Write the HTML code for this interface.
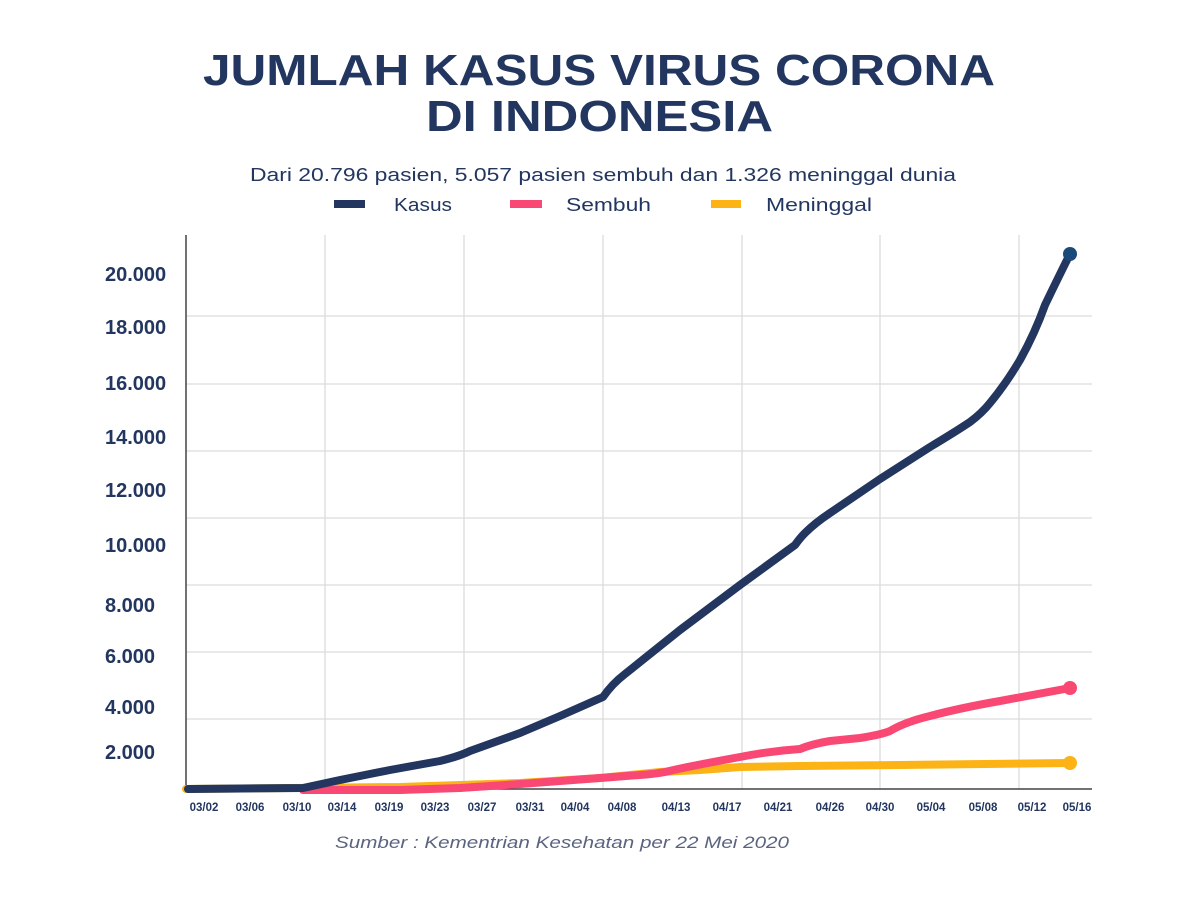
<!DOCTYPE html>
<html><head><meta charset="utf-8"><style>
html,body{margin:0;padding:0;background:#fff}
svg{display:block}
text{font-family:"Liberation Sans",sans-serif;fill:#22365f}
</style></head><body>
<svg width="1200" height="901" viewBox="0 0 1200 901" xmlns="http://www.w3.org/2000/svg">
<rect width="1200" height="901" fill="#fff"/>
<text x="203" y="85" font-size="44" font-weight="bold" textLength="792" lengthAdjust="spacingAndGlyphs">JUMLAH KASUS VIRUS CORONA</text>
<text x="426" y="131" font-size="44" font-weight="bold" textLength="347" lengthAdjust="spacingAndGlyphs">DI INDONESIA</text>
<text x="250" y="181" font-size="18" textLength="706" lengthAdjust="spacingAndGlyphs">Dari 20.796 pasien, 5.057 pasien sembuh dan 1.326 meninggal dunia</text>
<rect x="334" y="200" width="31" height="8" fill="#22365f"/>
<text x="394" y="211" font-size="18" textLength="58" lengthAdjust="spacingAndGlyphs">Kasus</text>
<rect x="510" y="200" width="32" height="8" fill="#f94873"/>
<text x="566" y="211" font-size="18" textLength="85" lengthAdjust="spacingAndGlyphs">Sembuh</text>
<rect x="711" y="200" width="30" height="8" fill="#fbb315"/>
<text x="766" y="211" font-size="18" textLength="106" lengthAdjust="spacingAndGlyphs">Meninggal</text>
<g stroke="#dcdcdc" stroke-width="1.3">
<line x1="325" y1="235" x2="325" y2="789"/><line x1="464" y1="235" x2="464" y2="789"/>
<line x1="603" y1="235" x2="603" y2="789"/><line x1="742" y1="235" x2="742" y2="789"/>
<line x1="880" y1="235" x2="880" y2="789"/><line x1="1019" y1="235" x2="1019" y2="789"/>
<line x1="186" y1="316" x2="1092" y2="316"/><line x1="186" y1="384" x2="1092" y2="384"/>
<line x1="186" y1="451" x2="1092" y2="451"/><line x1="186" y1="518" x2="1092" y2="518"/>
<line x1="186" y1="585" x2="1092" y2="585"/><line x1="186" y1="652" x2="1092" y2="652"/>
<line x1="186" y1="719" x2="1092" y2="719"/>
</g>
<line x1="186" y1="235" x2="186" y2="790" stroke="#444" stroke-width="1.5"/>
<line x1="186" y1="789" x2="1092" y2="789" stroke="#444" stroke-width="1.5"/>
<g font-size="20" font-weight="bold">
<text x="105" y="281">20.000</text><text x="105" y="334">18.000</text>
<text x="105" y="390">16.000</text><text x="105" y="444">14.000</text>
<text x="105" y="497">12.000</text><text x="105" y="552">10.000</text>
<text x="105" y="612">8.000</text><text x="105" y="663">6.000</text>
<text x="105" y="714">4.000</text><text x="105" y="759">2.000</text>
</g>
<g font-size="11.5" font-weight="bold" text-anchor="middle">
<text x="204" y="811">03/02</text><text x="250" y="811">03/06</text><text x="297" y="811">03/10</text>
<text x="342" y="811">03/14</text><text x="389" y="811">03/19</text><text x="435" y="811">03/23</text>
<text x="482" y="811">03/27</text><text x="530" y="811">03/31</text><text x="575" y="811">04/04</text>
<text x="622" y="811">04/08</text><text x="676" y="811">04/13</text><text x="727" y="811">04/17</text>
<text x="778" y="811">04/21</text><text x="830" y="811">04/26</text><text x="880" y="811">04/30</text>
<text x="931" y="811">05/04</text><text x="983" y="811">05/08</text><text x="1032" y="811">05/12</text>
<text x="1077" y="811">05/16</text>
</g>
<g fill="none" stroke-linejoin="round" stroke-linecap="round" stroke-width="8">
<polyline stroke="#fbb315" points="186,789 400,787 520,783 600,778 660,772 700,770 740,767 800,766 900,765 1070,763"/>
<path stroke="#f94873" d="M303,790 L400,790 L460,788 L520,784 L600,778 L640,775 Q655,774 665,772 Q690,766 740,757 Q770,751 800,749 Q812,744 830,741 L860,738 Q880,735 890,731 Q905,722 930,716 Q960,708 1000,701 L1070,688"/>
<path stroke="#22365f" d="M188,789 L303,788 L340,780 L390,770 L440,761 Q460,756 470,751 L520,733 L560,716 L603,697 Q612,684 625,674 L680,630 L740,585 L795,545 Q800,538 805,533 Q815,523 830,513 L880,479 L930,447 Q955,432 970,422 Q982,413 990,403 Q1005,385 1020,360 Q1035,333 1045,305 Q1058,278 1070,254"/>
</g>
<circle cx="1070" cy="763" r="7" fill="#fbb315"/>
<circle cx="1070" cy="688" r="7" fill="#f94873"/>
<circle cx="1070" cy="254" r="7" fill="#1a4a7a"/>
<text x="335" y="848" font-size="16.5" font-style="italic" style="fill:#5a6480" textLength="454" lengthAdjust="spacingAndGlyphs">Sumber : Kementrian Kesehatan per 22 Mei 2020</text>
</svg>
</body></html>
